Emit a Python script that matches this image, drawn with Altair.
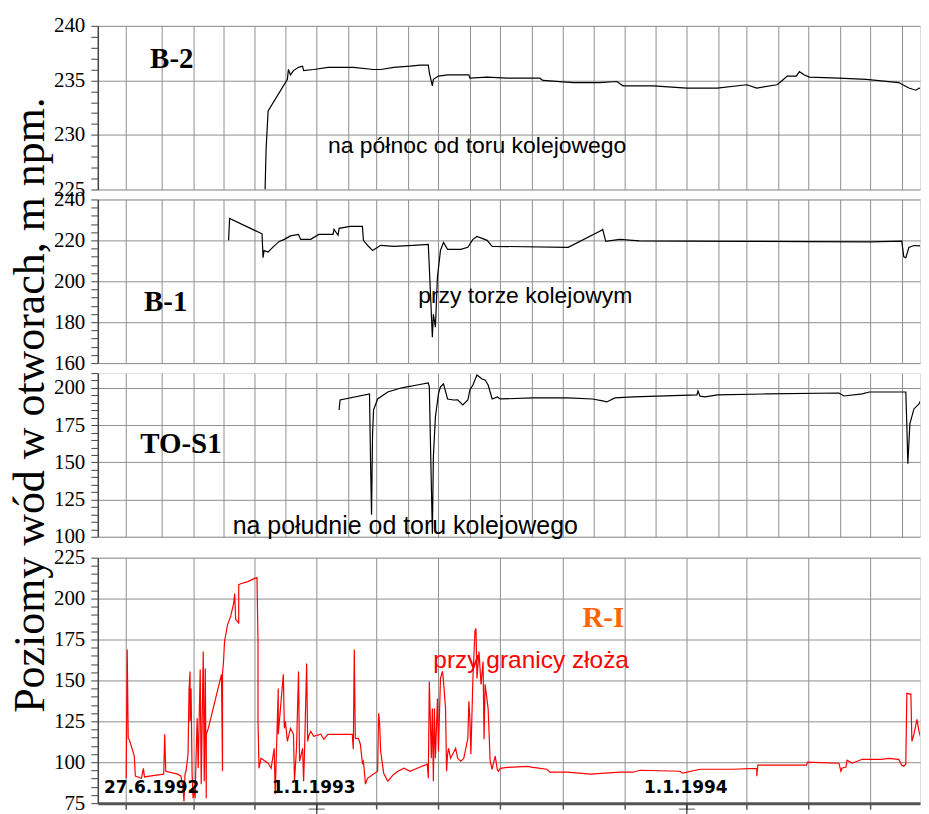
import altair as alt
import pandas as pd

# ---------------- data ----------------
month_ticks = ["1992-06-27", "1992-08-01", "1992-09-01", "1992-10-01", "1992-11-01", "1992-12-01",
               "1993-01-01", "1993-02-01", "1993-03-01", "1993-04-01", "1993-05-01", "1993-06-01",
               "1993-07-01", "1993-08-01", "1993-09-01", "1993-10-01", "1993-11-01", "1993-12-01",
               "1994-01-01", "1994-02-01", "1994-03-01", "1994-04-01", "1994-05-01", "1994-06-01",
               "1994-07-01", "1994-08-01"]
year_marks = ["1993-01-01", "1994-01-01"]
x_domain = ["1992-05-30", "1994-08-19"]

b2_dates = ["1992-11-11", "1992-11-12", "1992-11-14", "1992-12-03", "1992-12-04", "1992-12-06",
            "1992-12-09", "1992-12-14", "1992-12-18", "1992-12-19", "1992-12-29", "1993-01-12",
            "1993-02-06", "1993-02-26", "1993-03-05", "1993-03-18", "1993-04-03", "1993-04-13",
            "1993-04-21", "1993-04-22", "1993-04-25", "1993-04-26", "1993-05-01", "1993-05-10",
            "1993-05-31", "1993-06-01", "1993-06-18", "1993-07-08", "1993-08-09", "1993-08-12",
            "1993-09-11", "1993-10-07", "1993-10-24", "1993-10-30", "1993-11-29", "1994-01-01",
            "1994-01-31", "1994-03-01", "1994-03-11", "1994-03-31", "1994-04-04", "1994-04-10",
            "1994-04-19", "1994-04-22", "1994-04-27", "1994-05-02", "1994-05-31", "1994-06-27",
            "1994-07-29", "1994-08-08", "1994-08-15", "1994-08-18", "1994-08-27"]
b2_vals = [225.0, 228.7, 232.2, 235.1, 236.0, 235.5,
           235.9, 236.2, 236.3, 235.9, 236.0, 236.2,
           236.2, 236.0, 236.0, 236.2, 236.3, 236.4,
           236.4, 235.7, 234.5, 235.1, 235.4, 235.5,
           235.5, 235.2, 235.3, 235.2, 235.2, 235.0,
           234.8, 234.8, 234.9, 234.5, 234.5, 234.3,
           234.3, 234.6, 234.3, 234.6, 234.9, 235.4,
           235.4, 235.8, 235.5, 235.3, 235.2, 235.1,
           234.8, 234.3, 234.1, 234.3, 234.1]

b1_dates = ["1992-10-06", "1992-10-07", "1992-11-08", "1992-11-09", "1992-11-10", "1992-11-14",
            "1992-11-19", "1992-11-25", "1992-11-30", "1992-12-06", "1992-12-14", "1992-12-16",
            "1992-12-26", "1993-01-03", "1993-01-17", "1993-01-18", "1993-01-22", "1993-01-23",
            "1993-02-03", "1993-02-15", "1993-02-16", "1993-02-20", "1993-02-25", "1993-03-05",
            "1993-03-18", "1993-04-06", "1993-04-21", "1993-04-23", "1993-04-25", "1993-04-26",
            "1993-04-28", "1993-04-30", "1993-05-03", "1993-05-06", "1993-05-10", "1993-05-23",
            "1993-05-30", "1993-06-04", "1993-06-08", "1993-06-18", "1993-06-23", "1993-09-06",
            "1993-10-09", "1993-10-10", "1993-10-13", "1993-10-27", "1993-11-15", "1994-01-01",
            "1994-03-01", "1994-05-01", "1994-07-01", "1994-08-01", "1994-08-03", "1994-08-05",
            "1994-08-08", "1994-08-13", "1994-08-27"]
b1_vals = [220.0, 230.7, 223.2, 211.5, 215.0, 214.3,
           216.8, 219.5, 220.5, 222.2, 222.9, 220.5,
           220.5, 222.9, 222.9, 225.4, 222.5, 225.9,
           226.8, 226.8, 220.0, 217.6, 215.1, 217.6,
           217.1, 217.6, 218.0, 195.6, 172.7, 183.9,
           177.6, 202.0, 215.1, 219.0, 215.6, 215.6,
           216.6, 220.5, 221.9, 220.0, 217.1, 216.6,
           224.9, 225.4, 219.5, 220.5, 219.8, 219.6,
           219.5, 219.4, 219.3, 219.6, 212.0, 211.5,
           216.5, 217.5, 217.0]

to_dates = ["1993-01-23", "1993-01-24", "1993-02-22", "1993-02-23", "1993-02-24", "1993-02-25",
            "1993-02-26", "1993-03-02", "1993-03-12", "1993-03-25", "1993-03-31", "1993-04-10",
            "1993-04-21", "1993-04-22", "1993-04-23", "1993-04-25", "1993-04-26", "1993-04-28",
            "1993-05-01", "1993-05-03", "1993-05-06", "1993-05-10", "1993-05-16", "1993-05-20",
            "1993-05-25", "1993-05-30", "1993-06-01", "1993-06-04", "1993-06-08", "1993-06-13",
            "1993-06-16", "1993-06-19", "1993-06-23", "1993-06-28", "1993-07-01", "1993-08-02",
            "1993-09-05", "1993-09-30", "1993-10-10", "1993-10-14", "1993-10-22", "1993-11-09",
            "1994-01-11", "1994-01-12", "1994-01-14", "1994-01-19", "1994-01-31", "1994-03-21",
            "1994-05-31", "1994-06-05", "1994-06-23", "1994-06-30", "1994-08-05", "1994-08-06",
            "1994-08-07", "1994-08-09", "1994-08-13", "1994-08-18", "1994-08-20", "1994-08-27"]
to_vals = [185.2, 191.9, 196.0, 151.7, 114.8, 169.1,
           185.2, 192.6, 197.3, 200.0, 200.7, 202.0,
           203.4, 200.7, 167.1, 102.0, 153.7, 180.5,
           196.0, 200.7, 202.7, 192.6, 191.9, 192.0,
           188.6, 191.9, 198.7, 202.0, 208.7, 206.0,
           205.4, 202.0, 192.6, 194.0, 192.6, 193.3,
           193.3, 192.6, 191.3, 190.6, 193.3, 194.0,
           195.3, 198.0, 194.5, 194.0, 195.3, 196.0,
           196.6, 194.6, 196.0, 197.3, 197.3, 175.2,
           149.0, 175.8, 185.9, 189.3, 191.9, 188.6]

ri_dates = ["1992-06-27", "1992-06-28", "1992-06-29", "1992-06-30", "1992-07-05", "1992-07-06",
            "1992-07-12", "1992-07-14", "1992-07-15", "1992-07-25", "1992-08-03", "1992-08-04",
            "1992-08-05", "1992-08-17", "1992-08-20", "1992-08-22", "1992-08-23", "1992-08-24",
            "1992-08-25", "1992-08-27", "1992-08-28", "1992-08-29", "1992-08-29", "1992-08-30",
            "1992-08-31", "1992-09-01", "1992-09-02", "1992-09-03", "1992-09-04", "1992-09-05",
            "1992-09-06", "1992-09-08", "1992-09-09", "1992-09-11", "1992-09-12", "1992-09-13",
            "1992-09-14", "1992-09-14", "1992-09-16", "1992-09-29", "1992-09-30", "1992-09-30",
            "1992-10-01", "1992-10-02", "1992-10-05", "1992-10-08", "1992-10-11", "1992-10-12",
            "1992-10-13", "1992-10-15", "1992-10-16", "1992-10-16", "1992-10-18", "1992-10-25",
            "1992-10-31", "1992-11-03", "1992-11-04", "1992-11-04", "1992-11-05", "1992-11-07",
            "1992-11-14", "1992-11-17", "1992-11-18", "1992-11-20", "1992-11-21", "1992-11-24",
            "1992-11-24", "1992-11-27", "1992-11-29", "1992-11-30", "1992-12-01", "1992-12-03",
            "1992-12-06", "1992-12-09", "1992-12-10", "1992-12-12", "1992-12-14", "1992-12-15",
            "1992-12-18", "1992-12-19", "1992-12-20", "1992-12-22", "1992-12-23", "1992-12-24",
            "1992-12-26", "1992-12-29", "1993-01-05", "1993-01-08", "1993-01-12", "1993-01-18",
            "1993-02-05", "1993-02-06", "1993-02-07", "1993-02-08", "1993-02-11", "1993-02-13",
            "1993-02-15", "1993-02-16", "1993-02-18", "1993-02-20", "1993-03-02", "1993-03-03",
            "1993-03-04", "1993-03-05", "1993-03-08", "1993-03-12", "1993-03-18", "1993-03-22",
            "1993-03-28", "1993-04-03", "1993-04-10", "1993-04-20", "1993-04-21", "1993-04-22",
            "1993-04-24", "1993-04-25", "1993-04-26", "1993-04-27", "1993-04-28", "1993-04-30",
            "1993-05-01", "1993-05-03", "1993-05-05", "1993-05-06", "1993-05-08", "1993-05-09",
            "1993-05-10", "1993-05-11", "1993-05-13", "1993-05-18", "1993-05-20", "1993-05-23",
            "1993-05-26", "1993-05-30", "1993-05-31", "1993-06-01", "1993-06-02", "1993-06-04",
            "1993-06-06", "1993-06-07", "1993-06-08", "1993-06-10", "1993-06-12", "1993-06-14",
            "1993-06-15", "1993-06-16", "1993-06-19", "1993-06-21", "1993-06-23", "1993-06-24",
            "1993-06-26", "1993-06-28", "1993-06-29", "1993-07-01", "1993-07-08", "1993-07-28",
            "1993-08-02", "1993-08-16", "1993-08-19", "1993-09-05", "1993-09-28", "1993-10-27",
            "1993-11-09", "1993-11-16", "1993-12-25", "1993-12-28", "1994-01-14", "1994-02-15",
            "1994-03-11", "1994-03-11", "1994-03-12", "1994-04-29", "1994-04-30", "1994-05-31",
            "1994-06-02", "1994-06-03", "1994-06-07", "1994-06-08", "1994-06-13", "1994-06-18",
            "1994-06-23", "1994-07-12", "1994-07-19", "1994-07-29", "1994-08-01", "1994-08-03",
            "1994-08-05", "1994-08-06", "1994-08-10", "1994-08-11", "1994-08-13", "1994-08-16",
            "1994-08-18", "1994-08-20", "1994-08-21", "1994-08-23", "1994-08-27"]
ri_vals = [90.2, 168.9, 114.6, 114.0, 103.7, 91.5,
           90.2, 96.3, 91.0, 92.0, 92.7, 117.1,
           94.5, 92.7, 91.5, 84.1, 76.0, 92.7,
           94.5, 104.9, 144.5, 155.5, 125.0, 145.1,
           92.7, 78.0, 84.1, 78.0, 104.9, 126.8,
           96.3, 156.7, 86.6, 167.7, 88.4, 157.3,
           78.0, 117.1, 120.7, 153.7, 94.5, 154.3,
           161.6, 173.8, 184.1, 189.0, 197.0, 203.0,
           187.2, 186.0, 184.8, 208.5, 209.1, 210.4,
           212.2, 212.8, 175.0, 125.0, 96.3, 102.4,
           99.4, 96.3, 100.6, 108.5, 80.5, 145.1,
           117.1, 139.0, 153.7, 120.7, 125.0, 112.8,
           120.7, 117.1, 88.4, 108.5, 155.5, 100.6,
           108.5, 88.4, 108.5, 160.4, 112.8, 115.9,
           118.9, 115.9, 117.1, 114.0, 117.1, 117.0,
           117.1, 107.9, 168.9, 114.6, 114.6, 111.0,
           99.4, 100.6, 86.6, 90.2, 94.5, 129.9,
           123.2, 106.7, 93.3, 88.4, 92.7, 94.5,
           96.3, 94.5, 96.3, 98.8, 90.2, 149.4,
           102.4, 132.9, 88.4, 132.9, 102.4, 139.0,
           106.7, 151.2, 155.5, 149.4, 132.9, 94.5,
           104.9, 108.5, 102.4, 108.5, 102.4, 100.6,
           102.4, 114.6, 137.2, 126.8, 104.9, 151.2,
           179.9, 181.7, 151.2, 167.7, 147.6, 161.6,
           114.0, 147.6, 132.9, 100.6, 95.7, 98.8,
           103.7, 95.7, 94.5, 96.3, 96.9, 97.5,
           96.9, 95.7, 93.9, 93.9, 92.7, 93.9,
           93.9, 95.1, 94.5, 93.3, 95.7, 95.7,
           96.3, 91.5, 98.2, 98.2, 100.0, 99.4,
           94.5, 96.3, 97.0, 101.2, 99.5, 100.6,
           101.8, 101.8, 102.4, 101.8, 98.2, 97.6,
           98.8, 142.1, 141.5, 112.8, 117.1, 126.2,
           118.9, 114.6, 94.5, 114.0, 114.0]

b2_ticks = list(range(225, 241, 1))
b1_ticks = list(range(160, 241, 4))
to_ticks = list(range(100, 211, 5))
ri_ticks = list(range(75, 226, 5))

b2_notes = pd.DataFrame({"date": ["1992-08-11"], "value": [237.0], "text": ["B-2"]})
b2_desc = pd.DataFrame({"date": ["1993-01-12"], "value": [229.0], "text": ["na północ od toru kolejowego"]})
b1_notes = pd.DataFrame({"date": ["1992-08-05"], "value": [189.8], "text": ["B-1"]})
b1_desc = pd.DataFrame({"date": ["1993-04-11"], "value": [192.7], "text": ["przy torze kolejowym"]})
to_notes = pd.DataFrame({"date": ["1992-08-20"], "value": [162.4], "text": ["TO-S1"]})
to_desc = pd.DataFrame({"date": ["1992-10-10"], "value": [107.4], "text": ["na południe od toru kolejowego"]})
ri_notes = pd.DataFrame({"date": ["1993-09-20"], "value": [188.4], "text": ["R-I"]})
ri_desc = pd.DataFrame({"date": ["1993-04-26"], "value": [161.6], "text": ["przy granicy złoża"]})
date_labels_left = pd.DataFrame({"date": ["1992-06-05"], "value": [84.1], "text": ["27.6.1992"]})
date_labels_mid = pd.DataFrame({"date": ["1992-12-29", "1993-12-31"], "value": [84.1, 84.1],
                                "text": ["1.1.1993", "1.1.1994"]})
y_title = "Poziomy wód w otworach, m npm."

# ---------------- styling ----------------
SERIF = "Liberation Serif"
SANS = "Liberation Sans"
GRID = "#8f8f8f"
AXIS = "#444444"
W = 824


def dt(s):
    y, m, d = (int(v) for v in s.split("-"))
    return alt.DateTime(year=y, month=m, date=d, utc=True)


x_scale = alt.Scale(type="utc", domain=[dt(x_domain[0]), dt(x_domain[1])])
tick_dts = [dt(s) for s in month_ticks]


def x_axis(bottom):
    if bottom:
        return alt.Axis(values=tick_dts, grid=True, gridColor=GRID, gridWidth=1, labels=False,
                        ticks=True, tickSize=6, tickColor="#555555", tickWidth=1.5,
                        domain=True, domainColor="#555555", domainWidth=3, title=None)
    return alt.Axis(values=tick_dts, grid=True, gridColor=GRID, gridWidth=1, labels=False,
                    ticks=False, domain=False, title=None)


def y_axis(ticks, major):
    test = f"datum.value % {major} === 0"
    return alt.Axis(values=ticks, title=None, labelExpr=f"{test} ? datum.label : ''",
                    labelOverlap=False, labelFont=SERIF, labelFontSize=21, labelColor="black",
                    labelPadding=6, tickSize=7, tickColor=AXIS, tickWidth=1,
                    domainColor=AXIS, domainWidth=1.5, gridColor=GRID, gridWidth=1,
                    gridOpacity={"condition": {"test": test, "value": 1}, "value": 0})


def frame(dates, vals):
    return pd.DataFrame({"date": dates, "value": vals, "i": list(range(len(dates)))})


def panel(dates, vals, domain, ticks, major, height, color, bottom=False, extra=()):
    X = alt.X("date:T", scale=x_scale, axis=x_axis(bottom))
    Y = alt.Y("value:Q", scale=alt.Scale(domain=domain, nice=False, zero=False),
              axis=y_axis(ticks, major))
    line = alt.Chart(frame(dates, vals)).mark_line(color=color, strokeWidth=1.2, clip=True).encode(
        x=X, y=Y, order=alt.Order("i:Q"))
    layers = [line]
    for df, style in extra:
        layers.append(alt.Chart(df).mark_text(**style).encode(x=X, y=Y, text="text:N"))
    return alt.layer(*layers).properties(width=W, height=height)


label_style = dict(font=SERIF, fontSize=29, fontWeight="bold", color="black", align="center",
                   baseline="middle")


def desc(size, color="black"):
    return dict(font=SANS, fontSize=size, color=color, align="left", baseline="middle")


p1 = panel(b2_dates, b2_vals, [225, 240], b2_ticks, 5, 164, "black",
           extra=[(b2_notes, label_style), (b2_desc, desc(23))])
p2 = panel(b1_dates, b1_vals, [160, 240], b1_ticks, 20, 164, "black",
           extra=[(b1_notes, label_style), (b1_desc, desc(23))])

p3_base = panel(to_dates, to_vals, [100, 210], to_ticks, 25, 164, "black",
                extra=[(to_notes, label_style), (to_desc, desc(25))])
title_mark = alt.Chart(pd.DataFrame({"text": [y_title]})).mark_text(
    font=SERIF, fontSize=44, angle=270, align="center", baseline="alphabetic", color="black"
).encode(text="text:N", x=alt.value(-54), y=alt.value(32))
p3 = alt.layer(p3_base, title_mark)

ri_label_style = dict(font=SERIF, fontSize=29, fontWeight="bold", color="#ff6600", align="left",
                      baseline="middle")
dl_left = dict(font="DejaVu Sans", fontSize=17, fontWeight="bold", color="black", align="left",
               baseline="middle")
dl_mid = dict(font="DejaVu Sans", fontSize=17, fontWeight="bold", color="black", align="center",
              baseline="middle")
p4_base = panel(ri_dates, ri_vals, [75, 225], ri_ticks, 25, 246, "#ff0000", bottom=True,
                extra=[(ri_notes, ri_label_style), (ri_desc, desc(24.5, "#ff0000")),
                       (date_labels_left, dl_left), (date_labels_mid, dl_mid)])
marks_df = pd.DataFrame({"date": year_marks})
cross_v = alt.Chart(marks_df).mark_rule(color="#333333", strokeWidth=1.2).encode(
    x=alt.X("date:T", scale=x_scale), y=alt.value(246), y2=alt.value(258))
cross_h = alt.Chart(marks_df).mark_tick(color="#333333", orient="horizontal", size=16,
                                         thickness=1.2).encode(
    x=alt.X("date:T", scale=x_scale), y=alt.value(252))
p4 = alt.layer(p4_base, cross_v, cross_h)

spacer = alt.Chart(pd.DataFrame({"a": [0]})).mark_point(opacity=0).properties(width=W, height=1)

chart = alt.vconcat(p1, p2, p3, spacer, p4, spacing=10, bounds="flush").properties(
    padding={"left": 0, "top": 5, "right": 0, "bottom": 0}
).configure_view(strokeWidth=0).configure(background="white")

chart.save("out.html", embed_options={"renderer": "svg", "actions": False})
